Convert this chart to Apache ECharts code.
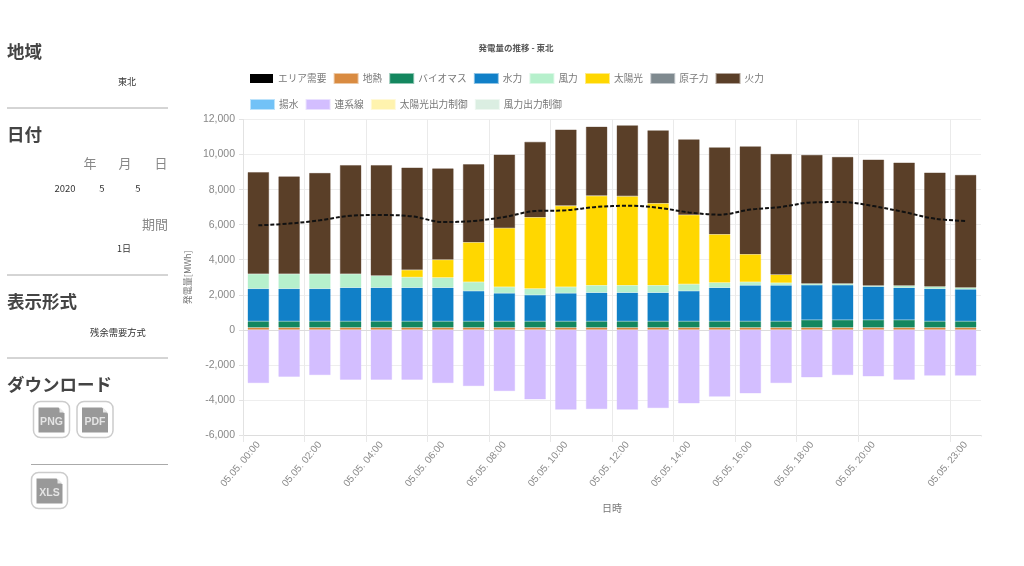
<!DOCTYPE html>
<html><head><meta charset="utf-8">
<style>html,body{margin:0;padding:0;background:#fff}#c{width:1024px;height:566px}</style>
<script src="https://cdn.jsdelivr.net/npm/echarts@6/dist/echarts.min.js"></script>
</head><body><div id="c"></div>
<script>
const hours = ['00','01','02','03','04','05','06','07','08','09','10','11','12','13','14','15','16','17','18','19','20','21','22','23'];
const categories = hours.map(h => '05.05. ' + h + ':00');
const shownTicks = [0,2,4,6,8,10,12,14,16,18,20,23];
const demand = [5960,6060,6250,6510,6550,6475,6150,6210,6435,6780,6820,7010,7080,6970,6700,6570,6860,7010,7270,7290,7060,6720,6340,6210];
const geothermal = [130,130,130,130,130,130,130,130,130,130,130,130,130,130,130,130,130,130,130,130,130,130,130,130];
const biomass = [360,360,360,360,360,360,360,360,360,360,360,360,360,360,360,360,360,360,440,440,440,440,360,360];
const hydro = [1860,1860,1860,1920,1920,1920,1920,1730,1600,1500,1600,1635,1635,1635,1730,1920,2050,2050,1990,1990,1900,1840,1860,1825];
const wind = [840,840,840,780,680,590,570,510,360,360,360,415,415,415,380,285,190,140,80,80,50,110,120,95];
const solar = [null,null,null,null,null,415,1020,2260,3350,4070,4630,5110,5080,4680,3960,2755,1580,470,null,null,null,null,null,null];
const nuclear = [];
const thermal = [5810,5560,5760,6210,6310,5845,5210,4460,4200,4310,4350,3940,4050,4165,4310,4965,6160,6885,7340,7225,7195,7025,6505,6430];
const pumped = [];
const interconnect = [-3040,-2680,-2583,-2850,-2850,-2850,-3040,-3210,-3495,-3970,-4560,-4520,-4560,-4464,-4198,-3817,-3628,-3040,-2715,-2583,-2660,-2850,-2620,-2620];
const solarCurtail = [];
const windCurtail = [];

const FONT = '"Noto Sans CJK JP","Noto Sans",sans-serif';
const AXF = '"Liberation Sans",Arial,sans-serif';
const bars = [
  ['地熱', geothermal, '#D98B41'],
  ['バイオマス', biomass, '#14875F'],
  ['水力', hydro, '#1180C8'],
  ['風力', wind, '#B6F0CC'],
  ['太陽光', solar, '#FFD700'],
  ['原子力', nuclear, '#7F8A8F'],
  ['火力', thermal, '#5A3F28'],
  ['揚水', pumped, '#72C2F7'],
  ['連系線', interconnect, '#D3BEFF'],
  ['太陽光出力制御', solarCurtail, '#FFF3AE'],
  ['風力出力制御', windCurtail, '#DBEEE2']
];
const series = [{
  name: 'エリア需要', type: 'line', data: demand, smooth: 0.35, showSymbol: false, z: 10,
  itemStyle: {color: '#000'}, lineStyle: {color: '#111', width: 2, type: [4, 2]},
  markLine: {silent: true, symbol: 'none', z: 1, label: {show: false}, animation: false,
    lineStyle: {color: '#dcdcdc', type: 'solid', width: 1.2}, data: [{yAxis: 0}]}
}].concat(bars.map(b => ({
  name: b[0], type: 'bar', stack: 'total', data: b[1], barWidth: 21.5,
  itemStyle: {color: b[2], borderColor: b[2] + '77', borderWidth: 0.8}
})));
const legendBase = {
  left: 250, orient: 'horizontal', itemWidth: 23, itemHeight: 9, itemGap: 7.2, icon: 'rect',
  padding: 0, textStyle: {fontFamily: FONT, fontSize: 9.7, color: '#777'}
};

function t(x, y, text, size, color, weight, align) {
  return {type: 'text', x: x, y: y, silent: true, style: {
    text: text, fontFamily: FONT, fontSize: size, fill: color, fontWeight: weight || 'normal',
    align: align || 'left', verticalAlign: 'middle'}};
}
function hr(x1, x2, y) {
  return {type: 'line', silent: true, shape: {x1: x1, y1: y, x2: x2, y2: y}, style: {stroke: '#aaa', lineWidth: 1}};
}
function icon(x, y, label) {
  return [
    {type: 'rect', silent: true, shape: {x: x, y: y, width: 36, height: 36, r: 7}, style: {fill: '#fff', stroke: '#ccc', lineWidth: 1.5}},
    {type: 'polygon', silent: true, shape: {points: [[x+5,y+6],[x+25,y+6],[x+31,y+12],[x+31,y+31],[x+5,y+31]]}, style: {fill: '#999'}},
    {type: 'polygon', silent: true, shape: {points: [[x+26,y+6],[x+31,y+11],[x+26,y+11]]}, style: {fill: '#e8e8e8'}},
    {type: 'text', silent: true, x: x+18, y: y+21, style: {text: label, fontFamily: AXF, fontSize: 10.5, fontWeight: 'bold', fill: '#e4e4e4', align: 'center', verticalAlign: 'middle'}}
  ];
}
const side = [
  t(7,51,'地域',17.5,'#444','bold'), t(127,82,'東北',9,'#333',null,'center'), hr(7,168,108),
  t(7,134,'日付',17.5,'#444','bold'),
  t(90,163,'年',13,'#888',null,'center'), t(125,163,'月',13,'#888',null,'center'), t(161,163,'日',13,'#888',null,'center'),
  t(65,188,'2020',9.5,'#333',null,'center'), t(102,188,'5',9.5,'#333',null,'center'), t(138,188,'5',9.5,'#333',null,'center'),
  t(168,224,'期間',13,'#888',null,'right'), t(124,249,'1日',9,'#333',null,'center'), hr(7,168,275),
  t(7,301,'表示形式',17.5,'#444','bold'), t(118,332,'残余需要方式',9.3,'#333',null,'center'), hr(7,168,358),
  t(7,384,'ダウンロード',17.5,'#444','bold'),
  ...icon(33.5,401.5,'PNG'), ...icon(77,401.5,'PDF'), hr(31,168,464.5), ...icon(31.5,472.5,'XLS'),
  {type: 'rect', silent: true, z: 100, shape: {x: 979.5, y: 436.5, width: 4, height: 9}, style: {fill: '#fff'}}
];

const chart = echarts.init(document.getElementById('c'), null, {renderer: 'canvas'});
chart.setOption({
  animation: false, backgroundColor: '#fff',
  title: {text: '発電量の推移 - 東北', left: 516, top: 44, textAlign: 'center', padding: 0,
    textStyle: {fontFamily: FONT, fontSize: 8.5, fontWeight: 'bold', color: '#555'}},
  legend: [
    Object.assign({}, legendBase, {top: 73, data: ['エリア需要','地熱','バイオマス','水力','風力','太陽光','原子力','火力']}),
    Object.assign({}, legendBase, {top: 99, data: ['揚水','連系線','太陽光出力制御','風力出力制御']})
  ],
  grid: {left: 243, right: 43, top: 119.5, bottom: 131, containLabel: false},
  xAxis: {
    type: 'category', data: categories, boundaryGap: true,
    name: '日時', nameLocation: 'middle', nameGap: 68,
    nameTextStyle: {fontFamily: FONT, fontSize: 10, color: '#777'},
    axisLine: {onZero: false, lineStyle: {color: '#ddd'}},
    axisTick: {show: true, length: 7, lineStyle: {color: '#e8e8e8'}, interval: i => shownTicks.includes(i)},
    splitLine: {show: true, showMaxLine: false, lineStyle: {color: '#eaeaea'}, interval: i => shownTicks.includes(i)},
    axisLabel: {rotate: 50, fontFamily: AXF, fontSize: 10, color: '#888', margin: 8, interval: i => shownTicks.includes(i)}
  },
  yAxis: {
    type: 'value', min: -6000, max: 12000, interval: 2000,
    name: '発電量[MWh]', nameLocation: 'middle', nameGap: 47, nameRotate: 90,
    nameTextStyle: {fontFamily: FONT, fontSize: 9, color: '#777'},
    axisLine: {show: true, lineStyle: {color: '#e2e2e2'}},
    axisTick: {show: true, length: 4, lineStyle: {color: '#e2e2e2'}},
    splitLine: {show: true, lineStyle: {color: '#eeeeee'}},
    axisLabel: {fontFamily: AXF, fontSize: 10.5, color: '#888', margin: 8, padding: [2, 0, 0, 0],
      formatter: v => v.toLocaleString('en-US')}
  },
  series: series,
  graphic: {elements: side}
});
</script></body></html>
